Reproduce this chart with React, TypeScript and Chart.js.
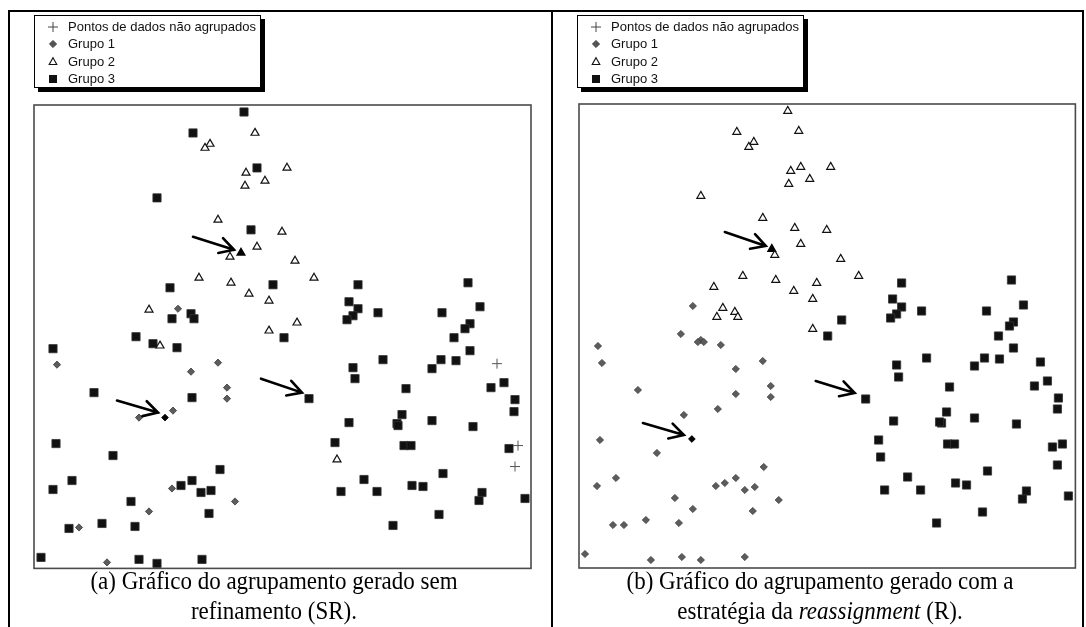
import React, { useEffect, useRef } from "react";
import { Chart, registerables } from "chart.js";

Chart.register(...registerables);

type P = [number, number];

const legendLabels = ["Pontos de dados não agrupados", "Grupo 1", "Grupo 2", "Grupo 3"];
const xMax = 99.4;
const yMax = 92.8;

// ---------- Panel (a): sem refinamento ----------
const aUngrouped: P[] = [[92.6, 41.0], [96.8, 24.6], [96.2, 20.4]];
const aGroup1: P[] = [
  [28.8, 52.0], [4.6, 40.8], [36.8, 41.2], [31.4, 39.4], [38.6, 36.2], [38.6, 34.0],
  [21.0, 30.2], [27.8, 31.6], [27.6, 16.0], [40.2, 13.4], [23.0, 11.4], [9.0, 8.2], [14.6, 1.2],
];
const aGroup1Marked: P[] = [[26.2, 30.2]];
const aGroup2: P[] = [
  [44.2, 87.2], [35.2, 85.0], [34.2, 84.2], [42.4, 79.2], [50.6, 80.2], [46.2, 77.6], [42.2, 76.6],
  [36.8, 69.8], [49.6, 67.4], [44.6, 64.4], [39.2, 62.4], [33.0, 58.2], [39.4, 57.2], [43.0, 55.0],
  [47.0, 53.6], [23.0, 51.8], [47.0, 47.6], [25.2, 44.6], [52.2, 61.6], [56.0, 58.2], [52.6, 49.2],
  [60.6, 21.8],
];
const aGroup2Marked: P[] = [[41.4, 63.2]];
const aGroup3: P[] = [
  [42.0, 91.4], [31.8, 87.2], [44.6, 80.2], [24.6, 74.2], [43.4, 67.8], [47.8, 56.8], [27.2, 56.2],
  [31.4, 51.0], [32.0, 50.0], [27.6, 50.0], [50.0, 46.2], [20.4, 46.4], [23.8, 45.0], [28.6, 44.2],
  [3.8, 44.0], [64.8, 56.8], [86.8, 57.2], [63.0, 53.4], [64.8, 52.0], [68.8, 51.2], [63.8, 50.6],
  [62.6, 49.8], [89.2, 52.4], [81.6, 51.2], [87.2, 49.0], [86.2, 48.0], [84.0, 46.2], [87.2, 43.6],
  [12.0, 35.2], [31.6, 34.2], [4.4, 25.0], [15.8, 22.6], [37.2, 19.8], [7.6, 17.6], [3.8, 15.8],
  [31.6, 17.6], [29.4, 16.6], [33.4, 15.2], [35.4, 15.6], [19.4, 13.4], [35.0, 11.0], [7.0, 8.0],
  [13.6, 9.0], [20.2, 8.4], [1.4, 2.2], [21.0, 1.8], [24.6, 1.0], [33.6, 1.8], [69.8, 41.8],
  [63.8, 40.2], [64.2, 38.0], [79.6, 40.0], [81.4, 41.8], [84.4, 41.6], [91.4, 36.2], [94.0, 37.2],
  [74.4, 36.0], [55.0, 34.0], [96.2, 33.8], [96.0, 31.4], [73.6, 30.8], [63.0, 29.2], [72.6, 29.0],
  [72.8, 28.6], [79.6, 29.6], [87.8, 28.4], [60.2, 25.2], [74.0, 24.6], [75.4, 24.6], [95.0, 24.0],
  [81.8, 19.0], [66.0, 17.8], [75.6, 16.6], [77.8, 16.4], [61.4, 15.4], [68.6, 15.4], [89.6, 15.2],
  [89.0, 13.6], [98.2, 14.0], [81.0, 10.8], [71.8, 8.6],
];
const aArrows: [P, P][] = [
  [[31.8, 66.4], [40.0, 63.8]],
  [[16.6, 33.6], [24.8, 31.2]],
  [[45.4, 38.0], [53.6, 35.2]],
];

// ---------- Panel (b): reassignment ----------
const bUngrouped: P[] = [];
const bGroup1: P[] = [
  [22.8, 52.4], [20.4, 46.8], [24.4, 45.6], [23.8, 45.2], [25.0, 45.2], [28.4, 44.6], [3.8, 44.4],
  [4.6, 41.0], [36.8, 41.4], [31.4, 39.8], [38.4, 36.4], [38.4, 34.2], [11.8, 35.6], [31.4, 34.8],
  [27.8, 31.8], [21.0, 30.6], [4.2, 25.6], [15.6, 23.0], [37.0, 20.2], [7.4, 18.0], [3.6, 16.4],
  [27.4, 16.4], [29.2, 17.0], [31.4, 18.0], [33.2, 15.6], [35.2, 16.2], [40.0, 13.6], [19.2, 14.0],
  [22.8, 11.8], [34.8, 11.4], [13.4, 9.6], [6.8, 8.6], [9.0, 8.6], [20.0, 9.0], [1.2, 2.8],
  [14.4, 1.6], [20.6, 2.2], [24.4, 1.6], [33.2, 2.2],
];
const bGroup1Marked: P[] = [[22.6, 25.8]];
const bGroup2: P[] = [
  [41.8, 91.4], [31.6, 87.2], [44.0, 87.4], [35.0, 85.2], [34.0, 84.2], [42.4, 79.4], [44.4, 80.2],
  [50.4, 80.2], [46.2, 77.8], [42.0, 76.8], [24.4, 74.4], [36.8, 70.0], [43.2, 68.0], [49.6, 67.6],
  [39.2, 62.6], [44.4, 64.8], [32.8, 58.4], [39.4, 57.6], [47.6, 57.0], [27.0, 56.2], [43.0, 55.4],
  [46.8, 53.8], [28.8, 52.0], [27.6, 50.2], [31.2, 51.2], [31.8, 50.2], [46.8, 47.8], [52.4, 61.8],
  [56.0, 58.4],
];
const bGroup2Marked: P[] = [[38.6, 63.8]];
const bGroup3: P[] = [
  [49.8, 46.4], [64.6, 57.0], [86.6, 57.6], [62.8, 53.8], [64.6, 52.2], [68.6, 51.4], [63.6, 50.8],
  [62.4, 50.0], [89.0, 52.6], [81.6, 51.4], [87.0, 49.2], [86.2, 48.4], [52.6, 49.6], [84.0, 46.4],
  [87.0, 44.0], [69.6, 42.0], [63.6, 40.6], [64.0, 38.2], [79.2, 40.4], [81.2, 42.0], [84.2, 41.8],
  [92.4, 41.2], [91.2, 36.4], [93.8, 37.4], [74.2, 36.2], [57.4, 33.8], [96.0, 34.0], [95.8, 31.8],
  [73.6, 31.2], [63.0, 29.4], [72.6, 29.0], [72.2, 29.2], [79.2, 30.0], [87.6, 28.8], [60.0, 25.6],
  [73.8, 24.8], [75.2, 24.8], [94.8, 24.2], [96.8, 24.8], [60.4, 22.2], [95.8, 20.6], [81.8, 19.4],
  [65.8, 18.2], [75.4, 17.0], [77.6, 16.6], [61.2, 15.6], [68.4, 15.6], [89.6, 15.4], [88.8, 13.8],
  [98.0, 14.4], [80.8, 11.2], [71.6, 9.0],
];
const bArrows: [P, P][] = [
  [[29.2, 67.2], [37.4, 64.4]],
  [[12.8, 29.0], [21.0, 26.6]],
  [[47.4, 37.4], [55.2, 35.0]],
];

const toXY = (arr: P[]) => arr.map(([x, y]) => ({ x, y }));

function buildDatasets(ung: P[], g1: P[], g1m: P[], g2: P[], g2m: P[], g3: P[]) {
  return [
    {
      label: legendLabels[0], data: toXY(ung), pointStyle: "cross", pointRadius: 5,
      borderColor: "#555", backgroundColor: "#555", borderWidth: 1, clip: false,
    },
    {
      label: legendLabels[1], data: toXY(g1), pointStyle: "rectRot", pointRadius: 3.6,
      borderColor: "#3a3a3a", backgroundColor: "#5c5c5c", borderWidth: 0.8, clip: false,
    },
    {
      label: "g1m", data: toXY(g1m), pointStyle: "rectRot", pointRadius: 3.4,
      borderColor: "#000", backgroundColor: "#000", borderWidth: 0.8, clip: false,
    },
    {
      label: legendLabels[2], data: toXY(g2), pointStyle: "triangle", pointRadius: 4.6,
      borderColor: "#111", backgroundColor: "#fff", borderWidth: 1.2, clip: false,
    },
    {
      label: "g2m", data: toXY(g2m), pointStyle: "triangle", pointRadius: 4.6,
      borderColor: "#000", backgroundColor: "#000", borderWidth: 1.2, clip: false,
    },
    {
      label: legendLabels[3], data: toXY(g3), pointStyle: "rect", pointRadius: 5.8,
      borderColor: "#333", backgroundColor: "#111", borderWidth: 0.8, clip: false,
    },
  ];
}

function drawLegend(ctx: CanvasRenderingContext2D, x: number, y: number) {
  const w = 227, h = 73;
  ctx.save();
  ctx.fillStyle = "#000";
  ctx.fillRect(x + 4, y + 4, w, h);
  ctx.fillStyle = "#fff";
  ctx.fillRect(x, y, w, h);
  ctx.strokeStyle = "#000";
  ctx.lineWidth = 1;
  ctx.strokeRect(x + 0.5, y + 0.5, w - 1, h - 1);
  ctx.font = '13px Arial, "Liberation Sans", sans-serif';
  ctx.textBaseline = "middle";
  legendLabels.forEach((t, i) => {
    const cy = y + 11.5 + i * 17.5;
    const sx = x + 19;
    ctx.fillStyle = "#111";
    ctx.fillText(t, x + 34, cy + 0.5);
    if (i === 0) {
      ctx.strokeStyle = "#444"; ctx.lineWidth = 1;
      ctx.beginPath();
      ctx.moveTo(sx - 5, cy + 0.5); ctx.lineTo(sx + 5, cy + 0.5);
      ctx.moveTo(sx, cy - 4.5); ctx.lineTo(sx, cy + 5.5);
      ctx.stroke();
    } else if (i === 1) {
      ctx.fillStyle = "#555"; ctx.strokeStyle = "#333"; ctx.lineWidth = 0.8;
      ctx.beginPath();
      ctx.moveTo(sx, cy - 3.6); ctx.lineTo(sx + 3.6, cy); ctx.lineTo(sx, cy + 3.6); ctx.lineTo(sx - 3.6, cy);
      ctx.closePath(); ctx.fill(); ctx.stroke();
    } else if (i === 2) {
      ctx.strokeStyle = "#111"; ctx.lineWidth = 1.1; ctx.fillStyle = "#fff";
      ctx.beginPath();
      ctx.moveTo(sx, cy - 3.8); ctx.lineTo(sx + 3.8, cy + 3); ctx.lineTo(sx - 3.8, cy + 3);
      ctx.closePath(); ctx.fill(); ctx.stroke();
    } else {
      ctx.fillStyle = "#111";
      ctx.fillRect(sx - 4, cy - 4, 8, 8);
    }
  });
  ctx.restore();
}

function makePlugin(arrows: [P, P][], legendDx: number) {
  return {
    id: "frameArrowsLegend",
    afterDatasetsDraw(chart: any) {
      const { ctx, chartArea: ca, scales } = chart;
      ctx.save();
      ctx.strokeStyle = "#4a4a4a";
      ctx.lineWidth = 1.6;
      ctx.strokeRect(ca.left, ca.top, ca.right - ca.left, ca.bottom - ca.top);
      ctx.strokeStyle = "#000";
      ctx.lineWidth = 2.6;
      ctx.lineCap = "round";
      for (const [s, e] of arrows) {
        const x1 = scales.x.getPixelForValue(s[0]);
        const y1 = scales.y.getPixelForValue(s[1]);
        const x2 = scales.x.getPixelForValue(e[0]);
        const y2 = scales.y.getPixelForValue(e[1]);
        const ang = Math.atan2(y2 - y1, x2 - x1);
        const hl = 16, ha = (29 * Math.PI) / 180;
        ctx.beginPath();
        ctx.moveTo(x1, y1);
        ctx.lineTo(x2, y2);
        ctx.moveTo(x2 - hl * Math.cos(ang - ha), y2 - hl * Math.sin(ang - ha));
        ctx.lineTo(x2, y2);
        ctx.lineTo(x2 - hl * Math.cos(ang + ha), y2 - hl * Math.sin(ang + ha));
        ctx.stroke();
      }
      ctx.restore();
      drawLegend(ctx, ca.left + legendDx, 3);
    },
  };
}

type PanelProps = {
  left: number; top: number; width: number; height: number;
  padding: { left: number; top: number; right: number; bottom: number };
  datasets: any[]; arrows: [P, P][]; legendDx: number;
};

function Panel(props: PanelProps) {
  const ref = useRef<HTMLCanvasElement | null>(null);
  useEffect(() => {
    if (!ref.current) return;
    const chart = new Chart(ref.current, {
      type: "scatter",
      data: { datasets: props.datasets },
      options: {
        animation: false,
        responsive: false,
        devicePixelRatio: 1,
        events: [],
        layout: { padding: props.padding },
        plugins: { legend: { display: false }, tooltip: { enabled: false }, title: { display: false } },
        scales: {
          x: { type: "linear", min: 0, max: xMax, display: false },
          y: { type: "linear", min: 0, max: yMax, display: false },
        },
      },
      plugins: [makePlugin(props.arrows, props.legendDx)],
    } as any);
    return () => chart.destroy();
  }, []);
  return (
    <canvas
      ref={ref}
      width={props.width}
      height={props.height}
      style={{ position: "absolute", left: props.left, top: props.top, width: props.width, height: props.height, display: "block" }}
    />
  );
}

const line = (l: number, t: number, w: number, h: number) => (
  <div style={{ position: "absolute", left: l, top: t, width: w, height: h, background: "#000" }} />
);

const capStyle: React.CSSProperties = {
  position: "absolute",
  width: 420,
  textAlign: "center",
  fontFamily: '"Times New Roman", "Liberation Serif", serif',
  fontSize: 23,
  lineHeight: "27px",
  color: "#000",
  whiteSpace: "nowrap",
  transform: "scale(1, 1.1)",
  transformOrigin: "50% 0",
};

export default function App() {
  return (
    <div style={{ position: "absolute", left: 0, top: 0, width: 1086, height: 627, overflow: "hidden", background: "#fff" }}>
      {line(8, 10, 1076, 2)}
      {line(8, 10, 2, 617)}
      {line(551, 10, 2, 617)}
      {line(1082, 10, 2, 617)}
      <Panel
        left={10} top={12} width={540} height={563}
        padding={{ left: 24, top: 93, right: 19, bottom: 6 }}
        datasets={buildDatasets(aUngrouped, aGroup1, aGroup1Marked, aGroup2, aGroup2Marked, aGroup3)}
        arrows={aArrows} legendDx={0}
      />
      <Panel
        left={554} top={12} width={528} height={563}
        padding={{ left: 25, top: 92, right: 6, bottom: 7 }}
        datasets={buildDatasets(bUngrouped, bGroup1, bGroup1Marked, bGroup2, bGroup2Marked, bGroup3)}
        arrows={bArrows} legendDx={-2}
      />
      <div style={{ ...capStyle, left: 64, top: 566 }}>
        (a) Gráfico do agrupamento gerado sem<br />refinamento (SR).
      </div>
      <div style={{ ...capStyle, left: 610, top: 566 }}>
        (b) Gráfico do agrupamento gerado com a<br />estratégia da <i>reassignment</i> (R).
      </div>
    </div>
  );
}
